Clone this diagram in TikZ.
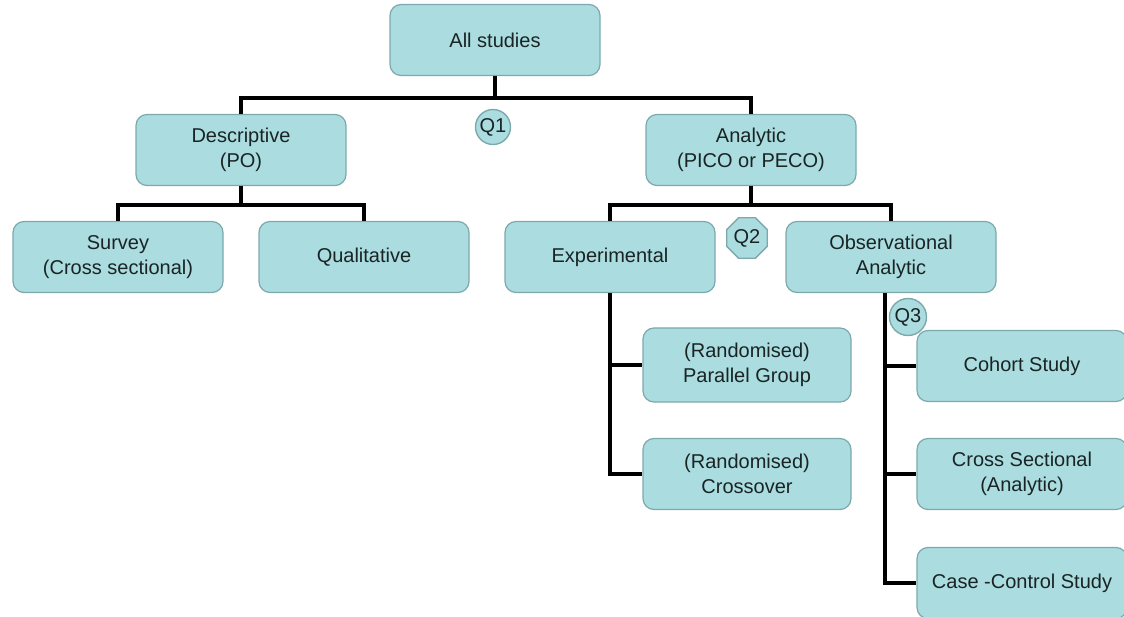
\documentclass[tikz,border=0pt]{standalone}
\usepackage{fontspec}
\setmainfont{Liberation Sans}
\definecolor{BoxFill}{HTML}{AADCE0}
\definecolor{BoxLine}{HTML}{7DA9AC}
\definecolor{InkDark}{HTML}{1A2424}
\usetikzlibrary{shapes.geometric, positioning}

\begin{document}
\begin{tikzpicture}[x=1pt, y=-1pt,
    box/.style={draw=BoxLine, line width=1.2pt, fill=BoxFill, rounded corners=11pt,
      minimum width=210pt, minimum height=71pt, align=center, text=InkDark,
      font=\fontsize{20}{25}\selectfont},
    qmark/.style={draw=BoxLine, line width=1.4pt, fill=BoxFill, circle, inner sep=1pt,
      minimum size=35pt, text=InkDark, font=\fontsize{20}{25}\selectfont},
    link/.style={line width=3.6pt, black}]
      \useasboundingbox (0,0) rectangle (1124,617);
      \clip (0,0) rectangle (1124,617);
      \node[box] (all) at (495,40) {All studies};
      \node[box] (desc) at (241,150) {Descriptive\\(PO)};
      \node[box] (anal) at (751,150) {Analytic\\(PICO or PECO)};
      \node[box] (survey) at (118,257) {Survey\\(Cross sectional)};
      \node[box] (qual) at (364,257) {Qualitative};
      \node[box] (exper) at (610,257) {Experimental};
      \node[box] (obs) at (891,257) {Observational\\Analytic};
      \node[box, minimum width=208pt, minimum height=74pt] (par) at (747,365) {(Randomised)\\Parallel Group};
      \node[box, minimum width=208pt] (cross) at (747,474) {(Randomised)\\Crossover};
      \node[box] (cohort) at (1022,366) {Cohort Study};
      \node[box] (xsec) at (1022,474) {Cross Sectional\\(Analytic)};
      \node[box] (casec) at (1022,583) {Case -Control Study};
      % branch points
      \coordinate (j1) at (495,98);
      \coordinate (j2) at (241,205);
      \coordinate (j3) at (751,205);
      \draw[link] (all.south) -- (j1);
      \draw[link] (j1) -| (desc.north);
      \draw[link] (j1) -| (anal.north);
      \draw[link] (desc.south) -- (j2);
      \draw[link] (j2) -| (survey.north);
      \draw[link] (j2) -| (qual.north);
      \draw[link] (anal.south) -- (j3);
      \draw[link] (j3) -| (exper.north);
      \draw[link] (j3) -| (obs.north);
      \draw[link] (exper.south) |- (par.west);
      \draw[link] (exper.south) |- (cross.west);
      \draw[link] ([xshift=-6pt]obs.south) |- (cohort.west);
      \draw[link] ([xshift=-6pt]obs.south) |- (xsec.west);
      \draw[link] ([xshift=-6pt]obs.south) |- (casec.west);
      % question marks
      \node[qmark] (q1) at (493,127) {Q1};
      \node[qmark, circle=false, regular polygon, regular polygon sides=8, minimum size=38pt] (q2) at (747,238) {Q2};
      \node[qmark, minimum size=37pt] (q3) at (908,317) {Q3};
\end{tikzpicture}
\end{document}
